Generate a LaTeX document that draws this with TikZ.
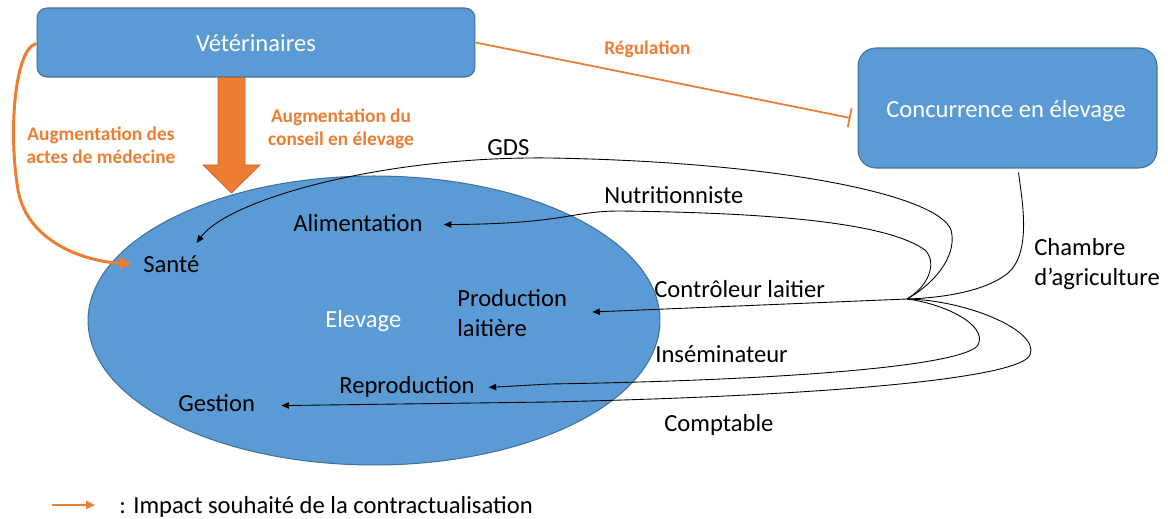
\documentclass[tikz,border=0pt]{standalone}
\usepackage{fontspec}
\setmainfont{Carlito}
\usetikzlibrary{arrows.meta,calc,shapes.geometric}
\definecolor{obl}{HTML}{5B9BD5}
\definecolor{obd}{HTML}{41719C}
\definecolor{oor}{HTML}{ED7D31}
\definecolor{oord}{HTML}{C9641F}
\newcommand\lblf{\fontsize{14}{17}\selectfont}
\newcommand\orf{\fontsize{11}{13}\selectfont\bfseries}
\tikzset{
  bluebox/.style={draw=obd, fill=obl, line width=0.6pt, text=white, font=\lblf, inner sep=0pt},
  lbl/.style={font=\lblf, text=black, inner sep=0pt},
  olbl/.style={font=\orf, text=oor, inner sep=0pt, align=center},
  conn/.style={draw=black, line width=0.5pt, -{Triangle[length=4.2pt,width=3.6pt]}},
  oconn/.style={draw=oor, line width=1.7pt, -{Triangle[length=7pt,width=6.5pt]}},
  bigarr/.style={fill=oor, draw=oord, line width=0.4pt},
}
\begin{document}
\begin{tikzpicture}[x=0.02cm,y=-0.02cm]
\useasboundingbox (0,0) rectangle (1168,519);
% Elevage ellipse
\node[ellipse, fill=obl, draw=obd, line width=0.6pt, minimum width=11.44cm, minimum height=5.78cm, inner sep=0pt] (elev) at (374,320.5) {};
\node[lbl, text=white, anchor=base west] (elevt) at (325,328) {Elevage};
% boxes
\node[bluebox, rounded corners=0.2cm, minimum width=8.76cm, minimum height=1.38cm] (vet) at (256,42.5) {};
\node[lbl, text=white, anchor=base] (vett) at (256,52) {Vétérinaires};
\node[bluebox, rounded corners=0.36cm, minimum width=5.98cm, minimum height=2.4cm] (conc) at (1007.5,108) {};
\node[lbl, text=white, anchor=base] (conct) at (1006,118) {Concurrence en élevage};
% labels inside ellipse
\node[lbl, anchor=base west] (sante) at (143,273) {Santé};
\node[lbl, anchor=base west] (alim) at (293,232) {Alimentation};
\node[lbl, anchor=west, align=left] (prod) at (457,313) {Production\\laitière};
\node[lbl, anchor=base west] (repro) at (339,394) {Reproduction};
\node[lbl, anchor=base west] (gest) at (178,412) {Gestion};
% connector labels
\node[lbl, anchor=base west] (lgds) at (487,156) {GDS};
\node[lbl, anchor=base west] (lnut) at (604,204) {Nutritionniste};
\node[lbl, anchor=base west] (lcon) at (654,298) {Contrôleur laitier};
\node[lbl, anchor=base west] (lins) at (655,363) {Inséminateur};
\node[lbl, anchor=base west] (lcom) at (664,432) {Comptable};
\node[lbl, anchor=west, align=left] (lcha) at (1034,264) {Chambre\\d’agriculture};
% orange labels
\node[olbl] (lmed) at (101,145) {Augmentation des\\actes de médecine};
\node[olbl] (lcons) at (341,129) {Augmentation du\\conseil en élevage};
\node[olbl, anchor=base west] (lreg) at (604,55) {Régulation};
% big arrow
\coordinate (btip) at (231.5,193);
\filldraw[bigarr] ($(btip |- vet.south)+(-13.5,0)$) -- ($(btip)+(-13.5,-28)$) -- ($(btip)+(-28.5,-28)$) -- (btip) -- ($(btip)+(28.5,-28)$) -- ($(btip)+(13.5,-28)$) -- ($(btip |- vet.south)+(13.5,0)$) -- cycle;
% orange curve to Santé
\coordinate (oStart) at ($(vet.west)+(0,1)$);
\coordinate (oTip) at ($(sante.west)+(-11,-1)$);
\draw[oconn] (oStart) .. controls (15,48) and (8,130) .. (18,190) .. controls (28,245) and (90,262) .. (oTip);
% Régulation
\coordinate (regEnd) at ($(conc.west)+(-7,10)$);
\draw[draw=oor, line width=1pt, -{Bar[width=11pt,line width=1pt]}] (vet.east) -- (regEnd);
% black connectors
\coordinate (J) at (907,299);
\coordinate (tSante) at ($(sante.north east)+(-3,-13)$);
\coordinate (tAlim) at ($(alim.east)+(21,1)$);
\coordinate (tProd) at ($(prod.east)+(25,-1)$);
\coordinate (tRepro) at ($(repro.east)+(14,0)$);
\coordinate (tGest) at ($(gest.east)+(26,2)$);
\coordinate (cStart) at ($(conc.south)+(11,4)$);
\draw[conn] (J) .. controls (940,280) and (957,252) .. (951,230) .. controls (938,195) and (780,162) .. (550,158) .. controls (380,156) and (228,200) .. (tSante);
\draw[conn] (J) .. controls (930,285) and (937,262) .. (925,250) .. controls (890,225) and (790,213) .. (620,211) .. controls (570,211) and (565,224) .. (tAlim);
\draw[conn] (J) -- (tProd);
\draw[draw=black, line width=0.5pt] (cStart) .. controls (1022,200) and (1032,252) .. (1008,273) .. controls (985,292) and (940,298) .. (J);
\draw[conn] (J) .. controls (945,304) and (988,325) .. (978,345) .. controls (965,365) and (800,380) .. (550,384) -- (tRepro);
\draw[conn] (J) .. controls (965,300) and (1040,330) .. (1030,355) .. controls (1020,377) and (850,395) .. (550,402) -- (tGest);
% legend
\coordinate (lg1) at (52,505);
\coordinate (lg2) at (95,505);
\draw[draw=oor, line width=1.3pt, -{Triangle[length=5pt,width=4.5pt]}] (lg1) -- (lg2);
\node[lbl, anchor=base west] (legt) at (119,513) {: Impact souhaité de la contractualisation};
\end{tikzpicture}
\end{document}
